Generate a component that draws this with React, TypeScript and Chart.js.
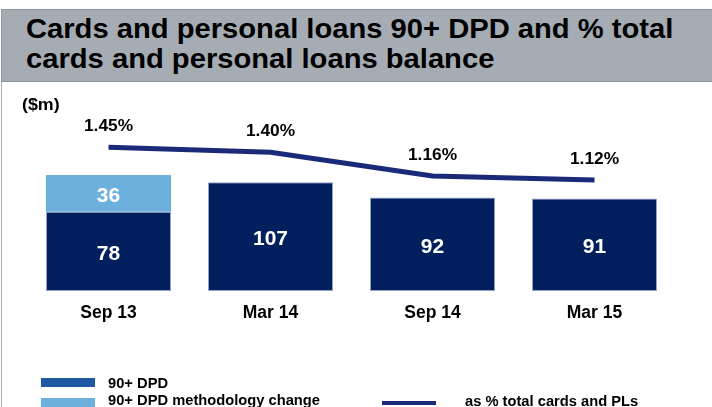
import React, { useEffect, useRef } from "react";
import { Chart, registerables } from "chart.js";

Chart.register(...registerables);

const categories = ["Sep 13", "Mar 14", "Sep 14", "Mar 15"];
const dpdValues = [78, 107, 92, 91];
const methodologyChangeValues = [36, null, null, null];
const pctOfTotal = [1.45, 1.4, 1.16, 1.12];
const pctLabels = ["1.45%", "1.40%", "1.16%", "1.12%"];

const titleLines = ["Cards and personal loans 90+ DPD and % total", "cards and personal loans balance"];
const unitLabel = "($m)";
const legendLabels = ["90+ DPD", "90+ DPD methodology change", "as % total cards and PLs"];

const FONT = "'Liberation Sans', Arial, Helvetica, sans-serif";
const DARK = "#001f5c";
const LIGHT = "#6cb0dd";
const LINE = "#1a2a78";
const LEGEND_DARK = "#1f58a3";

const labelPlugin = {
  id: "valueLabels",
  afterDatasetsDraw(chart: any) {
    const ctx = chart.ctx;
    [0, 1].forEach((di) => {
      const meta = chart.getDatasetMeta(di);
      meta.data.forEach((el: any, i: number) => {
        const v = chart.data.datasets[di].data[i];
        if (v == null) return;
        const p = el.getProps(["x", "y", "base"], true);
        const cy = (p.y + p.base) / 2;
        ctx.save();
        ctx.font = `bold 21px ${FONT}`;
        ctx.fillStyle = "#ffffff";
        ctx.textAlign = "center";
        ctx.textBaseline = "alphabetic";
        ctx.fillText(String(v), p.x, cy + 8.5);
        ctx.restore();
      });
    });
    const lm = chart.getDatasetMeta(2);
    lm.data.forEach((pt: any, i: number) => {
      ctx.save();
      ctx.font = `bold 16.5px ${FONT}`;
      ctx.fillStyle = "#000000";
      ctx.textAlign = "center";
      ctx.textBaseline = "alphabetic";
      ctx.translate(pt.x, pt.y - 16);
      ctx.scale(1.05, 1);
      ctx.fillText(pctLabels[i], 0, 0);
      ctx.restore();
    });
  },
};

function ChartCanvas() {
  const ref = useRef<HTMLCanvasElement | null>(null);
  useEffect(() => {
    if (!ref.current) return;
    const chart = new Chart(ref.current, {
      type: "bar",
      data: {
        labels: categories,
        datasets: [
          {
            type: "bar",
            label: legendLabels[0],
            data: dpdValues,
            backgroundColor: DARK,
            borderColor: "rgba(120,140,190,0.8)",
            borderWidth: 1,
            borderSkipped: false,
            barPercentage: 0.772,
            categoryPercentage: 1,
            yAxisID: "y",
            order: 2,
          },
          {
            type: "bar",
            label: legendLabels[1],
            data: methodologyChangeValues,
            backgroundColor: LIGHT,
            borderWidth: 0,
            barPercentage: 0.772,
            categoryPercentage: 1,
            yAxisID: "y",
            order: 2,
          },
          {
            type: "line",
            label: legendLabels[2],
            data: pctOfTotal,
            borderColor: LINE,
            borderWidth: 5,
            pointRadius: 0,
            tension: 0,
            fill: false,
            borderCapStyle: "butt",
            borderJoinStyle: "miter",
            yAxisID: "y1",
            order: 1,
          } as any,
        ],
      },
      options: {
        responsive: false,
        animation: false,
        devicePixelRatio: 1,
        layout: { padding: { left: 27.5, right: 36.5, top: 46.2, bottom: 76 } },
        plugins: { legend: { display: false }, tooltip: { enabled: false } },
        scales: {
          x: {
            stacked: true,
            grid: { display: false, drawTicks: false },
            border: { display: false },
            ticks: {
              color: "#000000",
              font: { family: FONT, size: 17.5, weight: "bold" },
              padding: 11.5,
            },
            afterFit: (s: any) => {
              s.height = 40;
            },
          },
          y: { display: false, stacked: true, min: 0, max: 160 },
          y1: { display: false, stacked: false, min: 0, max: 1.642 },
        },
      },
      plugins: [labelPlugin],
    });
    return () => chart.destroy();
  }, []);
  return (
    <canvas
      ref={ref}
      width={712}
      height={325}
      style={{ position: "absolute", left: 0, top: 82, width: 712, height: 325 }}
    />
  );
}

export default function App() {
  const textBase: React.CSSProperties = {
    position: "absolute",
    fontFamily: FONT,
    fontWeight: "bold",
    color: "#000",
    whiteSpace: "nowrap",
    transformOrigin: "left center",
  };
  return (
    <div
      style={{
        position: "absolute",
        left: 0,
        top: 0,
        width: 712,
        height: 407,
        overflow: "hidden",
        background: "#ffffff",
      }}
    >
      <div style={{ position: "absolute", left: 1, top: 9, width: 1, height: 398, background: "#a9adb1" }} />
      <div
        style={{
          position: "absolute",
          left: 1,
          top: 9,
          width: 711,
          height: 71,
          background: "#a5acb3",
          borderTop: "1px solid #8e959c",
          borderBottom: "1px solid #8e959c",
          borderLeft: "1px solid #8e959c",
        }}
      />
      <div
        style={{
          ...textBase,
          left: 25.5,
          top: 15.1,
          fontSize: 27,
          lineHeight: "29.7px",
          transform: "scaleX(1.08)",
        }}
      >
        {titleLines[0]}
        <br />
        {titleLines[1]}
      </div>
      <ChartCanvas />
      <div style={{ ...textBase, left: 22, top: 96, fontSize: 17, lineHeight: "17px", transform: "scaleX(1.05)" }}>
        {unitLabel}
      </div>
      <div style={{ position: "absolute", left: 41, top: 378, width: 54, height: 9, background: LEGEND_DARK }} />
      <div style={{ ...textBase, left: 108, top: 376, fontSize: 14, lineHeight: "14px", transform: "scaleX(1.05)" }}>
        {legendLabels[0]}
      </div>
      <div style={{ position: "absolute", left: 41, top: 398, width: 54, height: 9, background: LIGHT }} />
      <div style={{ ...textBase, left: 108, top: 393, fontSize: 14, lineHeight: "14px", transform: "scaleX(1.05)" }}>
        {legendLabels[1]}
      </div>
      <div style={{ position: "absolute", left: 382, top: 401, width: 54, height: 4, background: LINE }} />
      <div style={{ ...textBase, left: 465, top: 394, fontSize: 14, lineHeight: "14px", transform: "scaleX(1.05)" }}>
        {legendLabels[2]}
      </div>
    </div>
  );
}
